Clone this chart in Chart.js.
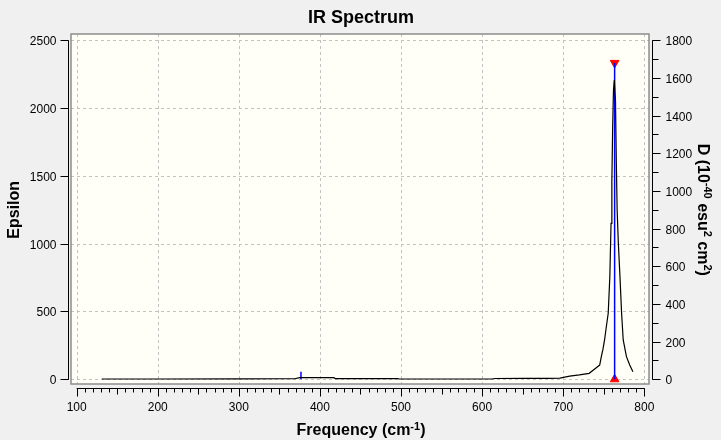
<!DOCTYPE html>
<html>
<head>
<meta charset="utf-8">
<title>IR Spectrum</title>
<script src="https://cdn.jsdelivr.net/npm/chart.js@4.4.1/dist/chart.umd.min.js"></script>
<style>
  html, body { margin: 0; padding: 0; background: #f0f0f0; }
  #wrap { width: 721px; height: 440px; position: relative; }
</style>
</head>
<body>
<div id="wrap"><canvas id="ir"></canvas></div>
<script>
// spectrum curve (cm-1, epsilon)
const freq = [131, 200, 300, 360, 369, 375, 380, 400, 417, 419,
              450, 496, 498, 550, 612, 616, 650, 680, 696, 708,
              720, 732, 740, 745, 747, 749, 751, 753, 755.5, 757.5,
              759, 760, 761, 762, 763, 764.5, 765.5, 766.5, 768, 770,
              772, 774, 778, 782, 786];
const epsilon = [2, 2, 3, 4, 4, 12, 12, 12, 12, 5,
                 5, 5, 2, 2, 2, 6, 7, 7, 8, 24,
                 33, 44, 81, 105, 167, 220, 290, 380, 487, 757,
                 1150, 1457, 1863, 2133, 2207, 2050, 1600, 1250, 1003, 757,
                 487, 290, 167, 105, 56];

// stick spectrum (dipole strength, right axis)
const stickFreq = [376.6, 763.4];
const stickD = [40, 1680];
const selectedStick = 1;

// tick labels
const xTicks = [100, 200, 300, 400, 500, 600, 700, 800];
const yTicks = [0, 500, 1000, 1500, 2000, 2500];
const y2Ticks = [0, 200, 400, 600, 800, 1000, 1200, 1400, 1600, 1800];

const FONT = '"Liberation Sans", Arial, Helvetica, sans-serif';

const sticks = [];
stickFreq.forEach((f, i) => {
    sticks.push({x: f, y: 0}, {x: f, y: stickD[i]}, {x: f, y: null});
});

const markers = [
    {x: stickFreq[selectedStick], y: stickD[selectedStick]},
    {x: stickFreq[selectedStick], y: 0}
];

// draws text with superscript pieces, centred on x, baseline at y
function richText(ctx, parts, x, y, size) {
    const big = 'bold ' + size + 'px ' + FONT;
    const small = 'bold ' + Math.round(size * 0.68) + 'px ' + FONT;
    let total = 0;
    parts.forEach(p => {
        ctx.font = p.sup ? small : big;
        total += ctx.measureText(p.t).width;
    });
    let cx = x - total / 2;
    ctx.textAlign = 'left';
    ctx.textBaseline = 'alphabetic';
    parts.forEach(p => {
        ctx.font = p.sup ? small : big;
        ctx.fillText(p.t, cx, p.sup ? y - p.rise : y);
        cx += ctx.measureText(p.t).width;
    });
}

function seg(ctx, x1, y1, x2, y2) {
    ctx.beginPath();
    ctx.moveTo(x1, y1);
    ctx.lineTo(x2, y2);
    ctx.stroke();
}

const frame = {
    id: 'frame',
    beforeDatasetsDraw(chart) {
        const {ctx, chartArea: a, scales: {x, y}} = chart;
        ctx.save();
        ctx.fillStyle = '#fffff7';
        ctx.fillRect(a.left, a.top, a.width, a.height);
        ctx.strokeStyle = '#c2c2c2';
        ctx.lineWidth = 1;
        ctx.setLineDash([3, 3]);
        xTicks.forEach(v => {
            const px = Math.round(x.getPixelForValue(v)) + 0.5;
            seg(ctx, px, a.top, px, a.bottom);
        });
        yTicks.forEach(v => {
            const py = Math.round(y.getPixelForValue(v)) + 0.5;
            seg(ctx, a.left, py, a.right, py);
        });
        ctx.restore();
    },
    afterDraw(chart) {
        const {ctx, chartArea: a, scales: {x, y, y2}} = chart;
        ctx.save();
        // plot box border
        ctx.strokeStyle = '#8c8c8c';
        ctx.lineWidth = 1.5;
        ctx.strokeRect(a.left, a.top, a.width, a.height);

        ctx.strokeStyle = '#000';
        ctx.fillStyle = '#000';
        ctx.lineWidth = 1;
        ctx.font = '12px ' + FONT;

        // left axis
        const lx = Math.round(a.left - 3) + 0.5;
        seg(ctx, lx, y.getPixelForValue(yTicks[yTicks.length - 1]), lx, y.getPixelForValue(0) + 0.5);
        ctx.textAlign = 'right';
        ctx.textBaseline = 'middle';
        yTicks.forEach(v => {
            const py = Math.round(y.getPixelForValue(v)) + 0.5;
            seg(ctx, lx - 8, py, lx, py);
            ctx.fillText(String(v), lx - 12, py + 1);
        });

        // right axis
        const rx = Math.round(a.right + 3) + 0.5;
        seg(ctx, rx, y2.getPixelForValue(y2Ticks[y2Ticks.length - 1]), rx, y2.getPixelForValue(0) + 0.5);
        for (let v = 0; v <= 1800; v += 100) {
            const py = Math.round(y2.getPixelForValue(v)) + 0.5;
            seg(ctx, rx, py, rx + (v % 200 === 0 ? 8 : 6), py);
        }
        ctx.textAlign = 'left';
        y2Ticks.forEach(v => {
            const py = Math.round(y2.getPixelForValue(v)) + 0.5;
            ctx.fillText(String(v), rx + 13, py + 1);
        });

        // bottom axis
        const by = Math.round(a.bottom + 4) + 0.5;
        seg(ctx, x.getPixelForValue(xTicks[0]), by, x.getPixelForValue(xTicks[xTicks.length - 1]) + 0.5, by);
        for (let v = xTicks[0]; v <= xTicks[xTicks.length - 1]; v += 10) {
            const px = Math.round(x.getPixelForValue(v)) + 0.5;
            const len = v % 100 === 0 ? 8 : (v % 50 === 0 ? 6 : 4);
            seg(ctx, px, by, px, by + len);
        }
        ctx.textAlign = 'center';
        ctx.textBaseline = 'alphabetic';
        xTicks.forEach(v => {
            ctx.fillText(String(v), x.getPixelForValue(v), 411);
        });

        // titles
        ctx.textAlign = 'center';
        ctx.font = 'bold 18px ' + FONT;
        ctx.fillText('IR Spectrum', (a.left + a.right) / 2 + 1, 22.5);

        richText(ctx, [
            {t: 'Frequency (cm'}, {t: '-1', sup: true, rise: 5}, {t: ')'}
        ], (a.left + a.right) / 2 + 1, 435, 16);

        ctx.save();
        ctx.translate(18.5, (y.getPixelForValue(0) + y.getPixelForValue(2500)) / 2);
        ctx.rotate(-Math.PI / 2);
        richText(ctx, [{t: 'Epsilon'}], 0, 0, 16);
        ctx.restore();

        ctx.save();
        ctx.translate(697.5, (y.getPixelForValue(0) + y.getPixelForValue(2500)) / 2);
        ctx.rotate(Math.PI / 2);
        richText(ctx, [
            {t: 'D (10'}, {t: '-40', sup: true, rise: 6},
            {t: ' esu'}, {t: '2', sup: true, rise: 6},
            {t: ' cm'}, {t: '2', sup: true, rise: 6}, {t: ')'}
        ], 0, 0, 16);
        ctx.restore();

        ctx.restore();
    }
};

new Chart(document.getElementById('ir'), {
    type: 'scatter',
    data: {
        datasets: [
            {
                label: 'Spectrum',
                data: freq.map((f, i) => ({x: f, y: epsilon[i]})),
                showLine: true,
                borderColor: '#000',
                borderWidth: 1.2,
                pointRadius: 0,
                tension: 0,
                yAxisID: 'y'
            },
            {
                label: 'Sticks',
                data: sticks,
                showLine: true,
                spanGaps: false,
                borderColor: '#0000ff',
                borderWidth: 1.5,
                pointRadius: 0,
                yAxisID: 'y2'
            },
            {
                label: 'Selected',
                data: markers,
                showLine: false,
                pointStyle: 'triangle',
                rotation: [180, 0],
                pointRadius: 5,
                backgroundColor: '#ff0000',
                borderColor: '#ff0000',
                borderWidth: 1,
                yAxisID: 'y2',
                clip: 6
            }
        ]
    },
    options: {
        responsive: true,
        maintainAspectRatio: false,
        animation: false,
        events: [],
        layout: { padding: { left: 71, top: 34, right: 72, bottom: 56 } },
        plugins: {
            legend: { display: false },
            tooltip: { enabled: false },
            title: { display: false }
        },
        scales: {
            x: { type: 'linear', min: 93, max: 805.8, display: false },
            y: { type: 'linear', min: -34.7, max: 2546.5, display: false },
            y2: { type: 'linear', position: 'right', min: -25, max: 1833.5, display: false }
        }
    },
    plugins: [frame]
});
</script>
</body>
</html>
